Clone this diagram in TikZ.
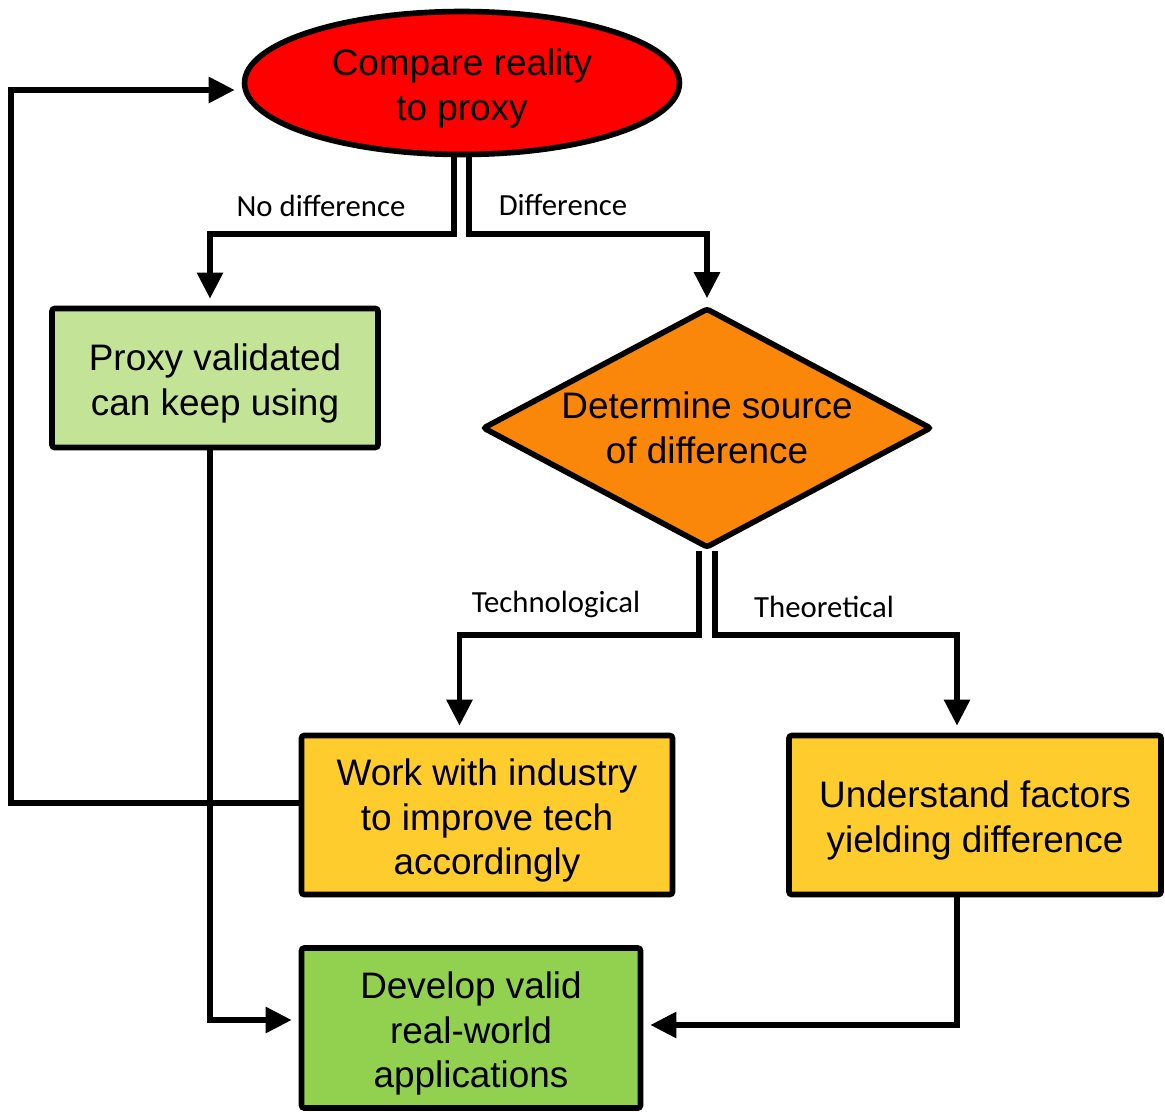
\documentclass[tikz,border=0pt]{standalone}
\usepackage{fontspec}
\setmainfont{Liberation Sans}
\newfontfamily\lblfont{Carlito}
\usetikzlibrary{positioning,shapes.geometric,arrows.meta}

\definecolor{cmpred}{RGB}{255,0,0}
\definecolor{proxygreen}{RGB}{195,227,150}
\definecolor{srcorange}{RGB}{250,135,10}
\definecolor{workyellow}{RGB}{255,204,46}
\definecolor{devgreen}{RGB}{146,208,80}
\newcommand\lowstrut{\rule{0pt}{21.5pt}}

\begin{document}
\begin{tikzpicture}[x=0.02cm, y=-0.02cm,
    box/.style={draw, line width=3.2pt, rounded corners=1.5pt, align=center,
      font=\fontsize{21}{25.5}\selectfont, inner sep=0pt},
    lbl/.style={font=\lblfont\fontsize{17.5}{20}\selectfont},
    arr/.style={line width=3.2pt, -{Triangle[width=0.5cm,length=0.52cm]}, shorten >=0.14cm}]
    \useasboundingbox (0,0) rectangle (1165,1111);

    \node[box, ellipse, fill=cmpred, minimum width=8.7cm, minimum height=2.86cm] (compare) at (462,83) {\lowstrut Compare reality\\to proxy};
    \node[box, fill=proxygreen, minimum width=6.52cm, minimum height=2.78cm] (proxy) at (215,378) {\lowstrut Proxy validated\\can keep using};
    \node[box, diamond, aspect=1.87, fill=srcorange, minimum width=8.98cm, minimum height=4.8cm] (source) at (707,428) {Determine source\\of difference};
    \node[box, fill=workyellow, minimum width=7.42cm, minimum height=3.18cm] (work) at (487,815) {\lowstrut Work with industry\\to improve tech\\accordingly};
    \node[box, fill=workyellow, minimum width=7.44cm, minimum height=3.18cm] (factors) at (975,815) {\lowstrut Understand factors\\yielding difference};
    \node[box, fill=devgreen, minimum width=6.78cm, minimum height=3.2cm] (develop) at (471,1028) {\lowstrut Develop valid\\real-world\\applications};

    \node[lbl] (nodiff) at (321,206) {No difference};
    \node[lbl] (diff) at (563,205) {Difference};
    \node[lbl] (tech) at (556,604) {Technological};
    \node[lbl] (theo) at (824,607) {Theoretical};

    \draw[arr] ([xshift=-0.16cm]compare.south) -- ++(0,77) -| ([xshift=-0.1cm]proxy.north);
    \draw[arr] ([xshift=0.14cm]compare.south) -- ++(0,77) -| (source.north);
    \draw[arr] ([xshift=-0.16cm]source.south) -- ++(0,84) -| ([xshift=-0.55cm]work.north);
    \draw[arr] ([xshift=0.16cm]source.south) -- ++(0,84) -| ([xshift=-0.36cm]factors.north);
    \draw[arr] ([xshift=-0.1cm]proxy.south) |- ([yshift=0.16cm]develop.west);
    \draw[arr] ([xshift=-0.36cm]factors.south) |- ([yshift=0.06cm]develop.east);
    \draw[arr] ([yshift=0.24cm]work.west) -- ++(-288,0) |- ([yshift=-0.14cm]compare.west);
  \end{tikzpicture}
\end{document}
